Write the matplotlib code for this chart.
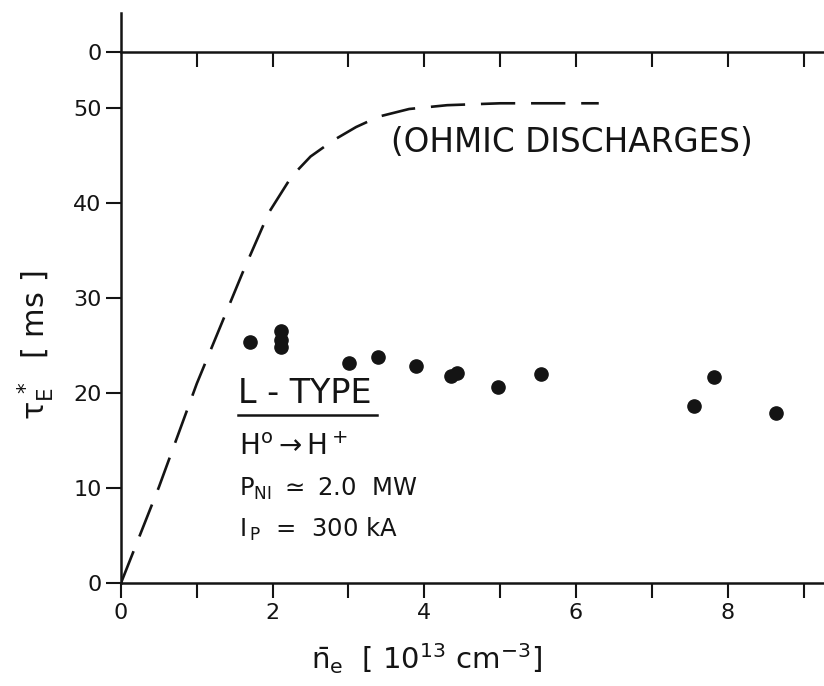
import matplotlib
matplotlib.use("Agg")
import matplotlib.pyplot as plt

# L-type neutral injection shots
ne_nbi = [1.70, 2.11, 2.11, 2.11, 3.01, 3.39, 3.89, 4.35, 4.43, 4.97, 5.54, 7.55, 7.82, 8.64]
tau_nbi = [25.4, 26.5, 25.6, 24.8, 23.2, 23.8, 22.9, 21.8, 22.1, 20.6, 22.0, 18.6, 21.7, 17.9]

# ohmic curve
ne_ohmic = [0.0, 0.5, 1.0, 1.6, 1.95, 2.25, 2.5, 2.8, 3.1, 3.4, 3.8, 4.3, 5.0, 6.3]
tau_ohmic = [0.0, 10.1, 21.0, 32.6, 39.0, 42.8, 44.9, 46.6, 48.0, 49.1, 49.9, 50.3, 50.5, 50.5]

y_ticks = [0, 10, 20, 30, 40, 50]
x_ticks_major = [0, 2, 4, 6, 8]
x_ticks_minor = [1, 3, 5, 7, 9]

ink = '#141414'
TOP_LINE = 55.9   # base line of the panel above, labelled "0"

fig = plt.figure(figsize=(8.24, 6.86), dpi=100)
ax = fig.add_axes([0.1468, 0.150, 0.8532, 0.831])

ax.plot(ne_ohmic, tau_ohmic, color=ink, lw=1.9, dashes=(13, 6), solid_capstyle='butt')
ax.plot(ne_nbi, tau_nbi, 'o', color=ink, ms=9.5, mec=ink)

ax.set_xlim(0, 9.27)
ax.set_ylim(0, 60)

for s in ['top', 'right']:
    ax.spines[s].set_visible(False)
for s in ['left', 'bottom']:
    ax.spines[s].set_linewidth(1.8)
    ax.spines[s].set_color(ink)

ax.set_yticks(y_ticks + [TOP_LINE])
ax.set_yticklabels([str(v) for v in y_ticks] + ['0'])
ax.set_xticks(x_ticks_major)
ax.set_xticks(x_ticks_minor, minor=True)
ax.tick_params(axis='both', which='both', direction='out', length=11, width=1.5,
               color=ink, labelcolor=ink, labelsize=16, pad=3)

# upper panel base line with inward ticks
top = ax.secondary_xaxis(TOP_LINE / 60)
top.set_xticks(list(range(1, 10)))
top.set_xticklabels([])
top.tick_params(direction='in', length=11, width=1.5, color=ink)
top.spines['top'].set_linewidth(1.8)
top.spines['top'].set_color(ink)
top.spines['bottom'].set_linewidth(1.8)
top.spines['bottom'].set_color(ink)

ax.text(5.95, 46.4, '(OHMIC DISCHARGES)', ha='center', va='center',
        fontsize=23.5, color=ink)

ax.text(1.54, 20.0, 'L - TYPE', ha='left', va='center', fontsize=24, color=ink)
ax.plot([1.54, 3.38], [17.7, 17.7], color=ink, lw=1.8)
ax.text(1.56, 14.3, r'H$\mathregular{^o}$$\rightarrow$H$\mathregular{^+}$', ha='left', va='center',
        fontsize=20, color=ink)
ax.text(1.56, 9.9, r'P$\mathregular{_{NI}}$ $\simeq$ 2.0  MW', ha='left', va='center',
        fontsize=17.5, color=ink)
ax.text(1.56, 5.6, r'I$\mathregular{_{\,P}}$  =  300 kA', ha='left', va='center',
        fontsize=17.5, color=ink)

fig.text(0.043, 0.497, r'$\mathregular{\tau_E^{\,*}}$  [ ms ]', rotation=90,
         ha='center', va='center', fontsize=22, color=ink)
fig.text(0.518, 0.04, r'$\mathregular{\bar{n}_e}$  [ 10$\mathregular{^{13}}$ cm$\mathregular{^{-3}}$]',
         ha='center', va='center', fontsize=21, color=ink)

fig.savefig('out.png', dpi=100)
